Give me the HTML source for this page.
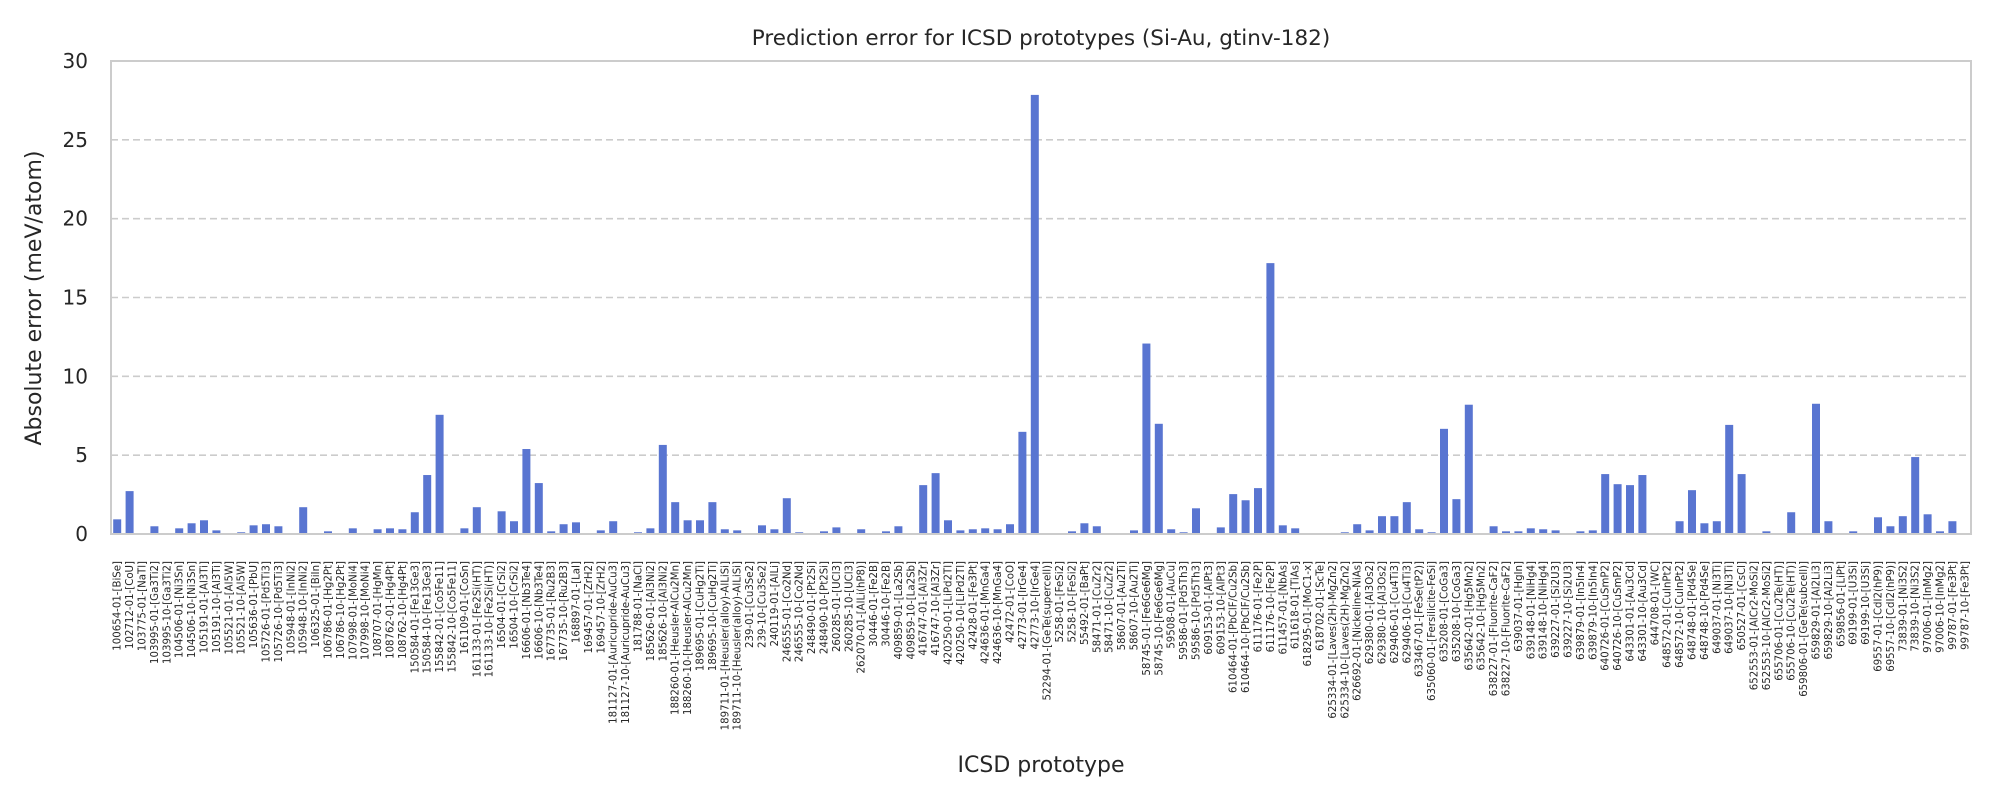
<!DOCTYPE html>
<html><head><meta charset="utf-8"><style>
html,body{margin:0;padding:0;background:#fff;}
svg{display:block;font-family:"DejaVu Sans","Liberation Sans",sans-serif;}
</style></head><body>
<svg id="chart" width="2000" height="800" viewBox="0 0 2000 800">
<rect x="0" y="0" width="2000" height="800" fill="#fff"/>
<text x="1041" y="45" text-anchor="middle" font-size="21.5" fill="#262626">Prediction error for ICSD prototypes (Si-Au, gtinv-182)</text>
<text transform="translate(41,298) rotate(-90)" text-anchor="middle" font-size="22" fill="#262626">Absolute error (meV/atom)</text>
<text x="1041" y="772" text-anchor="middle" font-size="22" fill="#262626">ICSD prototype</text>
<g id="grid"></g>
<g id="bars"></g>
<g id="yticks"></g>
<g id="xticks"></g>
<rect x="111" y="61" width="1860" height="473" fill="none" stroke="#cccccc" stroke-width="2"/>
</svg>
<script>
const categories = ["100654-01-[BiSe]","102712-01-[CoU]","103775-01-[NaTl]","103995-01-[Ga3Ti2]","103995-10-[Ga3Ti2]","104506-01-[Ni3Sn]","104506-10-[Ni3Sn]","105191-01-[Al3Ti]","105191-10-[Al3Ti]","105521-01-[Al5W]","105521-10-[Al5W]","105636-01-[PbU]","105726-01-[Pd5Ti3]","105726-10-[Pd5Ti3]","105948-01-[InNi2]","105948-10-[InNi2]","106325-01-[BiIn]","106786-01-[Hg2Pt]","106786-10-[Hg2Pt]","107998-01-[MoNi4]","107998-10-[MoNi4]","108707-01-[HgMn]","108762-01-[Hg4Pt]","108762-10-[Hg4Pt]","150584-01-[Fe13Ge3]","150584-10-[Fe13Ge3]","155842-01-[Co5Fe11]","155842-10-[Co5Fe11]","161109-01-[CoSn]","161133-01-[Fe2Si(HT)]","161133-10-[Fe2Si(HT)]","16504-01-[CrSi2]","16504-10-[CrSi2]","16606-01-[Nb3Te4]","16606-10-[Nb3Te4]","167735-01-[Ru2B3]","167735-10-[Ru2B3]","168897-01-[LaI]","169457-01-[ZrH2]","169457-10-[ZrH2]","181127-01-[Auricupride-AuCu3]","181127-10-[Auricupride-AuCu3]","181788-01-[NaCl]","185626-01-[Al3Ni2]","185626-10-[Al3Ni2]","188260-01-[Heusler-AlCu2Mn]","188260-10-[Heusler-AlCu2Mn]","189695-01-[CuHg2Ti]","189695-10-[CuHg2Ti]","189711-01-[Heusler(alloy)-AlLiSi]","189711-10-[Heusler(alloy)-AlLiSi]","239-01-[Cu3Se2]","239-10-[Cu3Se2]","240119-01-[AlLi]","246555-01-[Co2Nd]","246555-10-[Co2Nd]","248490-01-[Pt2Si]","248490-10-[Pt2Si]","260285-01-[UCl3]","260285-10-[UCl3]","262070-01-[AlLi(hP8)]","30446-01-[Fe2B]","30446-10-[Fe2B]","409859-01-[La2Sb]","409859-10-[La2Sb]","416747-01-[Al3Zr]","416747-10-[Al3Zr]","420250-01-[LiPd2Tl]","420250-10-[LiPd2Tl]","42428-01-[Fe3Pt]","424636-01-[MnGa4]","424636-10-[MnGa4]","42472-01-[CoO]","42773-01-[IrGe4]","42773-10-[IrGe4]","52294-01-[GeTe(supercell)]","5258-01-[FeSi2]","5258-10-[FeSi2]","55492-01-[BaPt]","58471-01-[CuZr2]","58471-10-[CuZr2]","58607-01-[Au2Ti]","58607-10-[Au2Ti]","58745-01-[Fe6Ge6Mg]","58745-10-[Fe6Ge6Mg]","59508-01-[AuCu]","59586-01-[Pd5Th3]","59586-10-[Pd5Th3]","609153-01-[AlPt3]","609153-10-[AlPt3]","610464-01-[PbClF/Cu2Sb]","610464-10-[PbClF/Cu2Sb]","611176-01-[Fe2P]","611176-10-[Fe2P]","611457-01-[NbAs]","611618-01-[TiAs]","618295-01-[MoC1-x]","618702-01-[ScTe]","625334-01-[Laves(2H)-MgZn2]","625334-10-[Laves(2H)-MgZn2]","626692-01-[Nickeline-NiAs]","629380-01-[Al3Os2]","629380-10-[Al3Os2]","629406-01-[Cu4Ti3]","629406-10-[Cu4Ti3]","633467-01-[FeSe(tP2)]","635060-01-[Fersilicite-FeSi]","635208-01-[CoGa3]","635208-10-[CoGa3]","635642-01-[Hg5Mn2]","635642-10-[Hg5Mn2]","638227-01-[Fluorite-CaF2]","638227-10-[Fluorite-CaF2]","639037-01-[HgIn]","639148-01-[NiHg4]","639148-10-[NiHg4]","639227-01-[Si2U3]","639227-10-[Si2U3]","639879-01-[In5In4]","639879-10-[In5In4]","640726-01-[CuSmP2]","640726-10-[CuSmP2]","643301-01-[Au3Cd]","643301-10-[Au3Cd]","644708-01-[WC]","648572-01-[CuInPt2]","648572-10-[CuInPt2]","648748-01-[Pd4Se]","648748-10-[Pd4Se]","649037-01-[Ni3Ti]","649037-10-[Ni3Ti]","650527-01-[CsCl]","652553-01-[AlCr2-MoSi2]","652553-10-[AlCr2-MoSi2]","655706-01-[Cu2Te(HT)]","655706-10-[Cu2Te(HT)]","659806-01-[GeTe(subcell)]","659829-01-[Al2Li3]","659829-10-[Al2Li3]","659856-01-[LiPt]","69199-01-[U3Si]","69199-10-[U3Si]","69557-01-[CdI2(hP9)]","69557-10-[CdI2(hP9)]","73839-01-[Ni3S2]","73839-10-[Ni3S2]","97006-01-[InMg2]","97006-10-[InMg2]","99787-01-[Fe3Pt]","99787-10-[Fe3Pt]"];
const errors = [0.93,2.72,0,0.49,0,0.36,0.68,0.87,0.23,0,0.11,0.55,0.62,0.49,0,1.70,0,0.17,0.05,0.36,0,0.30,0.36,0.30,1.38,3.74,7.56,0.05,0.36,1.70,0,1.44,0.81,5.39,3.23,0.17,0.62,0.74,0,0.23,0.81,0,0.11,0.36,5.65,2.02,0.87,0.87,2.02,0.30,0.23,0,0.55,0.30,2.27,0.11,0,0.17,0.42,0.05,0.30,0,0.17,0.49,0.05,3.10,3.86,0.87,0.23,0.30,0.36,0.30,0.62,6.48,27.85,0.05,0,0.17,0.68,0.49,0,0,0.23,12.08,6.99,0.30,0.11,1.63,0.05,0.42,2.53,2.14,2.91,17.18,0.55,0.36,0,0.05,0,0.11,0.62,0.23,1.13,1.13,2.02,0.30,0.11,6.67,2.21,8.20,0.05,0.49,0.17,0.17,0.36,0.30,0.23,0,0.17,0.23,3.80,3.16,3.10,3.74,0,0,0.81,2.78,0.68,0.81,6.92,3.80,0,0.17,0,1.38,0.05,8.26,0.81,0,0.17,0,1.06,0.49,1.13,4.88,1.25,0.17,0.81,0];
const yTicks = [0,5,10,15,20,25,30];

const NS = "http://www.w3.org/2000/svg";
const X0 = 111, X1 = 1971, Y0 = 534, Y1 = 61, YMAX = 30;
const step = (X1 - X0) / categories.length;
function xScale(i){ return X0 + (i + 0.5) * step; }
function yScale(v){ return Y0 - (v / YMAX) * (Y0 - Y1); }

const grid = document.getElementById('grid');
const yt = document.getElementById('yticks');
yTicks.forEach(t => {
  const y = yScale(t);
  if (t > 0 && t < YMAX) {
    const l = document.createElementNS(NS, 'line');
    l.setAttribute('x1', X0); l.setAttribute('x2', X1);
    l.setAttribute('y1', y); l.setAttribute('y2', y);
    l.setAttribute('stroke', '#cccccc'); l.setAttribute('stroke-width', '1.6');
    l.setAttribute('stroke-dasharray', '7,4');
    
    
    grid.appendChild(l);
  }
  const tx = document.createElementNS(NS, 'text');
  tx.setAttribute('x', 88); tx.setAttribute('y', y + 7);
  tx.setAttribute('text-anchor', 'end'); tx.setAttribute('font-size', '20');
  tx.setAttribute('fill', '#262626');
  tx.textContent = String(t);
  
  
  yt.appendChild(tx);
});

const bars = document.getElementById('bars');
const xt = document.getElementById('xticks');
const bw = 8;
errors.forEach((v, i) => {
  const cx = xScale(i);
  if (v > 0) {
    const r = document.createElementNS(NS, 'rect');
    r.setAttribute('x', cx - bw / 2);
    r.setAttribute('y', yScale(v));
    r.setAttribute('width', bw);
    r.setAttribute('height', Y0 - yScale(v));
    r.setAttribute('fill', '#5975d1');
    
    
    bars.appendChild(r);
  }
  const tx = document.createElementNS(NS, 'text');
  tx.setAttribute('transform', 'translate(' + (cx + 3.5) + ',561) rotate(-90)');
  tx.setAttribute('text-anchor', 'end');
  tx.setAttribute('font-size', '10.2');
  tx.setAttribute('fill', '#262626');
  tx.textContent = categories[i];
  
  
  xt.appendChild(tx);
});
</script>
</body></html>
